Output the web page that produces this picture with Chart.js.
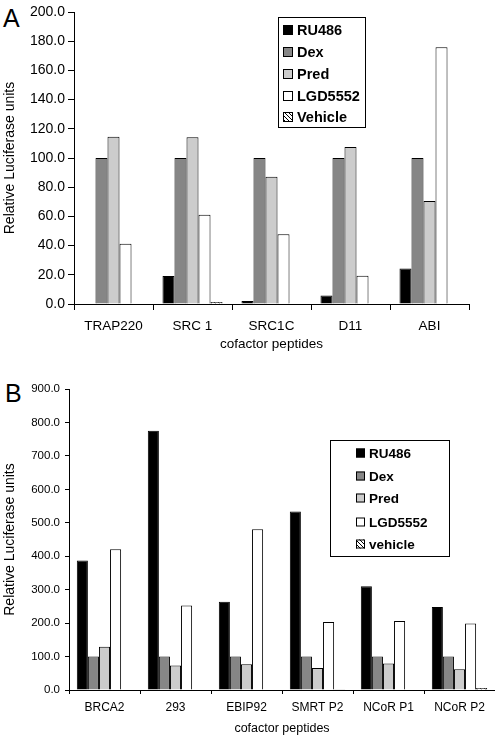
<!DOCTYPE html>
<html>
<head>
<meta charset="utf-8">
<script src="https://cdn.jsdelivr.net/npm/chart.js@4/dist/chart.umd.min.js"></script>
<style>
    html, body { margin: 0; padding: 0; background: #fff; }
    body { width: 495px; height: 737px; position: relative; overflow: hidden; font-family: "Liberation Sans", Arial, sans-serif; }
    .panel { position: absolute; left: 0; }
    .tag { position: absolute; font-size: 25px; color: #000; line-height: 1; }
</style>
</head>
<body>
<div class="tag" style="left:3px; top:6px;">A</div>
<div class="tag" style="left:5px; top:381px;">B</div>
<canvas id="chartA" class="panel" style="top:0px;" width="495" height="355"></canvas>
<canvas id="chartB" class="panel" style="top:360px;" width="495" height="377"></canvas>

<script>
// panel A
const categoriesA = ['TRAP220', 'SRC 1', 'SRC1C', 'D11', 'ABI'];
const ru486A   = [0, 19.2, 2.0, 5.8, 24.4];
const dexA     = [100, 100, 100, 100, 100];
const predA    = [114.6, 114.2, 87.2, 107.5, 70.5];
const lgdA     = [41.3, 61.2, 47.7, 19.4, 175.8];
const vehicleA = [0, 1.4, 0.4, 0.4, 0.4];
const seriesNamesA = ['RU486', 'Dex', 'Pred', 'LGD5552', 'Vehicle'];

// panel B
const categoriesB = ['BRCA2', '293', 'EBIP92', 'SMRT P2', 'NCoR P1', 'NCoR P2'];
const ru486B   = [387, 775, 264, 534, 310, 248];
const dexB     = [100, 100, 100, 100, 100, 100];
const predB    = [129, 73, 77, 66, 79, 62];
const lgdB     = [421, 253, 481, 203, 206, 199];
const vehicleB = [1.5, 0, 0, 1, 0, 6];
const seriesNamesB = ['RU486', 'Dex', 'Pred', 'LGD5552', 'vehicle'];

const FONT = '"Liberation Sans", Arial, sans-serif';

function hatchPattern() {
    const c = document.createElement('canvas');
    c.width = 4; c.height = 4;
    const g = c.getContext('2d');
    g.fillStyle = '#fff';
    g.fillRect(0, 0, 4, 4);
    g.strokeStyle = '#000';
    g.lineWidth = 1;
    g.beginPath();
    g.moveTo(0, 0); g.lineTo(4, 4);
    g.stroke();
    return g.createPattern(c, 'repeat');
}

const fills = ['#000000', '#868686', '#cccccc', '#ffffff', hatchPattern()];

function makeDatasets(names, arrays) {
    return names.map((name, i) => ({
        label: name,
        data: arrays[i],
        backgroundColor: fills[i],
        borderColor: '#000',
        borderWidth: 1,
        borderSkipped: 'start'
    }));
}

// boxed legend drawn at a fixed spot in the plot
const boxLegend = {
    id: 'boxLegend',
    afterDraw(chart, args, opts) {
        const ctx = chart.ctx;
        ctx.save();
        ctx.fillStyle = '#fff';
        ctx.fillRect(opts.x, opts.y, opts.w, opts.h);
        ctx.strokeStyle = '#000';
        ctx.lineWidth = 1;
        ctx.strokeRect(opts.x + 0.5, opts.y + 0.5, opts.w, opts.h);
        ctx.font = 'bold ' + opts.fontSize + 'px ' + FONT;
        ctx.textBaseline = 'middle';
        chart.data.datasets.forEach((ds, i) => {
            const cy = opts.rows[i];
            const s = opts.sym;
            ctx.fillStyle = ds.backgroundColor;
            ctx.fillRect(opts.symX, cy - s / 2, s, s);
            ctx.strokeStyle = '#000';
            ctx.strokeRect(opts.symX + 0.5, cy - s / 2 + 0.5, s - 1, s - 1);
            ctx.fillStyle = '#000';
            ctx.fillText(ds.label, opts.textX, cy + 1);
        });
        ctx.restore();
    }
};

function buildChart(id, cfg) {
    return new Chart(document.getElementById(id), {
        type: 'bar',
        data: {
            labels: cfg.labels,
            datasets: makeDatasets(cfg.names, cfg.series)
        },
        options: {
            responsive: false,
            animation: false,
            events: [],
            layout: { padding: cfg.padding },
            datasets: {
                bar: { categoryPercentage: cfg.catPct, barPercentage: 1 }
            },
            scales: {
                x: {
                    afterFit: (s) => { s.height = cfg.xHeight; },
                    grid: { drawOnChartArea: false, drawTicks: true, tickLength: cfg.xTick, color: '#000', offset: true },
                    border: { display: true, color: '#000', width: 1 },
                    ticks: { color: '#000', padding: cfg.xPad, font: { family: FONT, size: cfg.xFont } },
                    title: { display: true, text: 'cofactor peptides', color: '#000',
                             font: { family: FONT, size: cfg.titleFont }, padding: { top: 0, bottom: cfg.titlePad } }
                },
                y: {
                    min: 0,
                    max: cfg.max,
                    afterFit: (s) => { s.width = cfg.yWidth; },
                    grid: { drawOnChartArea: false, drawTicks: true, tickLength: cfg.yTick, color: '#000' },
                    border: { display: true, color: '#000', width: 1 },
                    ticks: {
                        stepSize: cfg.step,
                        color: '#000',
                        padding: cfg.yPad,
                        font: { family: FONT, size: cfg.yFont },
                        callback: (v) => v.toFixed(1)
                    },
                    title: { display: true, text: 'Relative Luciferase units', color: '#000',
                             font: { family: FONT, size: 14 }, padding: { top: 2, bottom: 0 } }
                }
            },
            plugins: {
                legend: { display: false },
                tooltip: { enabled: false },
                boxLegend: cfg.legend
            }
        },
        plugins: [boxLegend]
    });
}

buildChart('chartA', {
    labels: categoriesA,
    names: seriesNamesA,
    series: [ru486A, dexA, predA, lgdA, vehicleA],
    padding: { top: 12, right: 26, left: 0, bottom: 0 },
    catPct: 0.76,
    max: 200, step: 20,
    xHeight: 51, xTick: 6, xPad: 8, xFont: 13.5,
    titleFont: 13.5, titlePad: 3,
    yWidth: 74, yTick: 6, yPad: 3, yFont: 14,
    legend: { x: 278, y: 17, w: 87, h: 110, symX: 283, textX: 297, sym: 10, fontSize: 14.5,
              rows: [30, 52, 74, 96, 117] }
});

buildChart('chartB', {
    labels: categoriesB,
    names: seriesNamesB,
    series: [ru486B, dexB, predB, lgdB, vehicleB],
    padding: { top: 29, right: 0, left: 0, bottom: 0 },
    catPct: 0.78,
    max: 900, step: 100,
    xHeight: 47, xTick: 4, xPad: 6, xFont: 12,
    titleFont: 12.5, titlePad: 1,
    yWidth: 69, yTick: 4, yPad: 5, yFont: 11.5,
    legend: { x: 330, y: 80, w: 119, h: 116, symX: 356, textX: 369, sym: 9, fontSize: 13.5,
              rows: [93, 116, 138, 162, 184] }
});
</script>
</body>
</html>
